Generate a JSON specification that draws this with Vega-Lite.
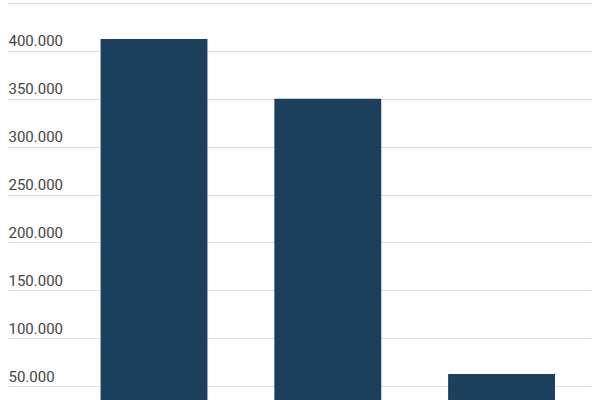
{
  "$schema": "https://vega.github.io/schema/vega-lite/v6.json",
  "width": 583,
  "height": 397,
  "autosize": {"type": "none"},
  "padding": {"left": 8, "top": 3, "right": 9, "bottom": 0},
  "background": "white",
  "config": {
    "view": {"stroke": null},
    "font": "Roboto",
    "locale": {
      "number": {"decimal": ",", "thousands": ".", "grouping": [3], "currency": ["", " €"]}
    }
  },
  "data": {
    "values": [
      {"Kategorie": "A", "Wert": 412500},
      {"Kategorie": "B", "Wert": 350000},
      {"Kategorie": "C", "Wert": 62500}
    ]
  },
  "mark": {"type": "bar", "color": "#1b3f5c", "clip": true},
  "encoding": {
    "x": {
      "field": "Kategorie",
      "type": "nominal",
      "sort": null,
      "scale": {"paddingInner": 0.385, "paddingOuter": 0.37, "align": 0.72},
      "axis": null
    },
    "y": {
      "field": "Wert",
      "type": "quantitative",
      "scale": {"domain": [35400, 450000], "zero": false, "nice": false},
      "axis": {
        "title": null,
        "values": [50000, 100000, 150000, 200000, 250000, 300000, 350000, 400000, 450000],
        "format": ",d",
        "labelExpr": "datum.value >= 450000 ? '' : datum.label",
        "domain": false,
        "ticks": false,
        "labelAlign": "left",
        "labelBaseline": "alphabetic",
        "labelPadding": 0,
        "labelOffset": -5,
        "labelFontSize": 15,
        "labelColor": "#444444",
        "gridColor": "#dddddd",
        "gridWidth": 1
      }
    }
  }
}
